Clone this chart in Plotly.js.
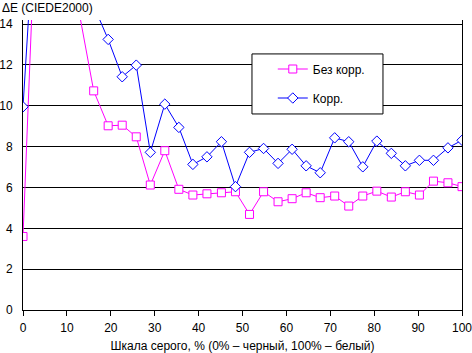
<!DOCTYPE html>
<html>
<head>
<meta charset="utf-8">
<script src="https://cdn.plot.ly/plotly-3.0.1.min.js"></script>
<style>html,body{margin:0;padding:0;background:#fff;}#chart{width:472px;height:353px;}</style>
</head>
<body>
<div id="chart"></div>
<script>
var grayPct = [0, 3.2, 6.5, 9.7, 12.9, 16.1, 19.4, 22.6, 25.8, 29.0, 32.3, 35.5, 38.7, 41.9, 45.2, 48.4, 51.6, 54.8, 58.1, 61.3, 64.5, 67.7, 71.0, 74.2, 77.4, 80.6, 83.9, 87.1, 90.3, 93.5, 96.8, 100];
var noCorr = [3.6, 21, 23, 19, 14.45, 10.73, 9.02, 9.05, 8.48, 6.12, 7.80, 5.91, 5.63, 5.69, 5.74, 5.79, 4.68, 5.79, 5.30, 5.45, 5.74, 5.50, 5.58, 5.09, 5.58, 5.82, 5.53, 5.79, 5.63, 6.31, 6.23, 6.04];
var corr = [9.95, 21, 24, 20, 17, 14.9, 13.25, 11.42, 11.99, 7.72, 10.08, 8.94, 7.13, 7.50, 8.24, 6.04, 7.72, 7.91, 7.18, 7.87, 7.06, 6.72, 8.43, 8.24, 7.01, 8.27, 7.67, 7.06, 7.33, 7.33, 7.94, 8.31];
var seriesNames = ["Без корр.", "Корр."];
var yTickVals = [0, 2, 4, 6, 8, 10, 12, 14];
var xTitle = "Шкала серого, % (0% – черный, 100% – белый)";
var yTitle = "ΔE (CIEDE2000)";

var font = "Liberation Sans, Arial, sans-serif";
var traces = [
  {x: grayPct, y: noCorr, name: seriesNames[0], type: "scatter", mode: "lines+markers",
   legendgroup: "a",
   line: {color: "#FF00FF", width: 1},
   marker: {symbol: "square", size: 8, color: "#FFFFFF", line: {color: "#FF00FF", width: 1}}},
  {x: grayPct, y: corr, name: seriesNames[1], type: "scatter", mode: "lines+markers",
   legendgroup: "b",
   line: {color: "#0000FF", width: 1},
   marker: {symbol: "diamond", size: 8, color: "#FFFFFF", line: {color: "#0000FF", width: 1}}}
];
var layout = {
  width: 472, height: 353,
  margin: {l: 23, r: 10, t: 20, b: 43},
  paper_bgcolor: "#fff", plot_bgcolor: "#fff",
  font: {family: font, size: 12, color: "#000"},
  showlegend: true,
  legend: {x: 0.569, y: 0.881, xanchor: "left", yanchor: "top", bgcolor: "rgba(0,0,0,0)",
           borderwidth: 0, tracegroupgap: 10, font: {family: font, size: 12, color: "#000"}},
  xaxis: {range: [0, 100], dtick: 10, tick0: 0, showgrid: false, zeroline: false,
          showline: true, linecolor: "#000", linewidth: 1,
          ticks: "outside", ticklen: 5, tickcolor: "#000", ticklabelstandoff: 2,
          ticklabeloverflow: "allow",
          title: {text: xTitle, font: {family: font, size: 12, color: "#000"}, standoff: 7}},
  yaxis: {range: [0, 14.2], tickmode: "array", tickvals: yTickVals, showgrid: true, gridcolor: "#000", gridwidth: 1,
          zeroline: false, showline: true, linecolor: "#000", linewidth: 1, mirror: true,
          ticks: "", ticklabelstandoff: 7, ticklabeloverflow: "allow"},
  shapes: [{type: "rect", xref: "paper", yref: "paper", x0: 0.5216, x1: 0.820, y0: 0.676, y1: 0.883,
            line: {color: "#000", width: 1}, fillcolor: "#fff", layer: "above"}],
  annotations: [{text: yTitle, xref: "paper", yref: "paper", x: -23/439, y: (310-8)/290,
                 xanchor: "left", yanchor: "middle", showarrow: false,
                 font: {family: font, size: 12, color: "#000"}}]
};
Plotly.newPlot("chart", traces, layout, {staticPlot: true});
</script>
</body>
</html>
